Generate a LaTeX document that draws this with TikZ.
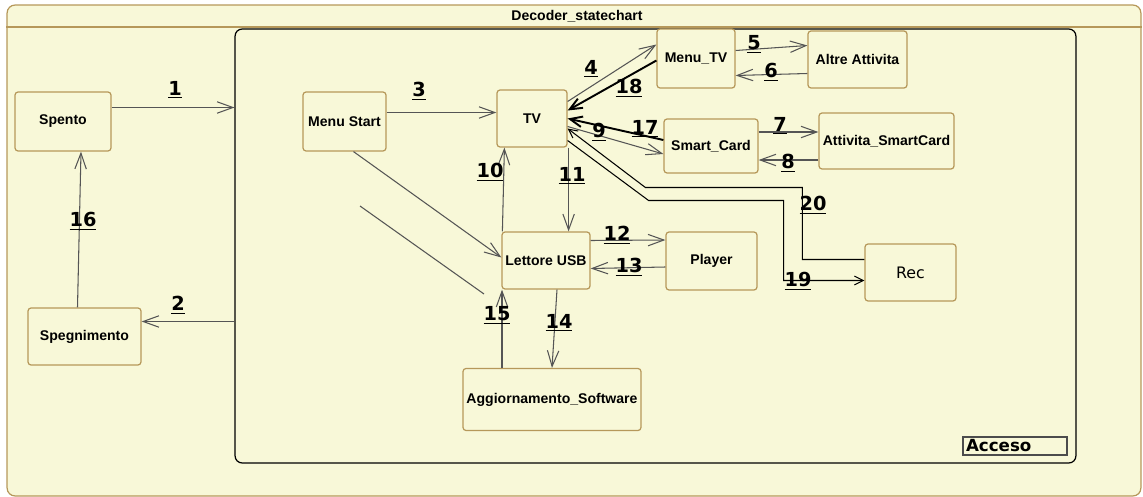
\documentclass[tikz,border=0pt]{standalone}
\usepackage{fontspec}
\setmainfont{Liberation Sans}
\newfontfamily\numfont{DejaVu Sans}
\usetikzlibrary{arrows.meta,calc}
\definecolor{chartbg}{RGB}{248,248,216}
\definecolor{statedraw}{RGB}{182,152,90}
\definecolor{linegray}{RGB}{85,85,85}
\begin{document}
\begin{tikzpicture}[
    x=0.02cm, y=-0.02cm,
    box/.style={rectangle, rounded corners=1.7pt, draw=statedraw, line width=0.7pt, fill=chartbg, inner sep=1pt, align=center, font=\bfseries\fontsize{8}{9}\selectfont},
    recbox/.style={box, font=\numfont\fontsize{9}{10}\selectfont},
    num/.style={font=\numfont\bfseries\fontsize{11}{11}\selectfont, inner sep=0pt},
    arrow/.style={-{Straight Barb[length=9pt,width=6.5pt]}, line width=0.6pt, linegray},
    thickarrow/.style={-{Straight Barb[length=7pt,width=6pt]}, line width=1.1pt, black},
    routearrow/.style={-{Straight Barb[length=5pt,width=5pt]}, line width=0.6pt, black}
]
\useasboundingbox (0,0) rectangle (1143,497);
% Frames
\node[draw=statedraw, fill=chartbg, rounded corners=4.5pt, line width=0.7pt, minimum width=22.68cm, minimum height=9.82cm] (decoder) at (574,250.5) {};
\coordinate (hdr) at (0,27);
\draw[statedraw, line width=0.7pt] (decoder.west |- hdr) -- (decoder.east |- hdr);
\node[font=\bfseries\fontsize{8}{9}\selectfont] (title) at (577,16) {Decoder\_statechart};
\node[draw=black, rounded corners=4pt, line width=0.7pt, minimum width=16.82cm, minimum height=8.68cm] (acceso) at (655.5,246) {};
\node[draw=black!70, line width=1pt, minimum width=2.08cm, minimum height=0.36cm, inner xsep=0.06cm, inner ysep=0pt, text width=1.96cm, align=left, font=\numfont\bfseries\fontsize{9.5}{10}\selectfont] (accesolabel) at (1015,446) {Acceso};
% States
\node[box, minimum width=1.92cm, minimum height=1.18cm] (spento) at (63,121.5) {Spento};
\node[box, minimum width=2.26cm, minimum height=1.14cm] (spegnimento) at (84.5,336.5) {Spegnimento};
\node[box, minimum width=1.66cm, minimum height=1.18cm] (menustart) at (344.5,121.5) {Menu Start};
\node[box, minimum width=1.40cm, minimum height=1.14cm] (tv) at (532,118.5) {TV};
\node[box, minimum width=1.56cm, minimum height=1.18cm] (menutv) at (696,58.5) {Menu\_TV};
\node[box, minimum width=1.98cm, minimum height=1.14cm] (altre) at (857.5,59.5) {Altre Attivita};
\node[box, minimum width=1.88cm, minimum height=1.08cm] (smartcard) at (711,146) {Smart\_Card};
\node[box, minimum width=2.70cm, minimum height=1.12cm] (attsmart) at (886.5,141) {Attivita\_SmartCard};
\node[box, minimum width=1.76cm, minimum height=1.14cm] (lettore) at (546,260.5) {Lettore USB};
\node[box, minimum width=1.82cm, minimum height=1.16cm] (player) at (711.5,261) {Player};
\node[box, minimum width=3.56cm, minimum height=1.24cm] (aggiornamento) at (552,399.5) {Aggiornamento\_Software};
\node[recbox, minimum width=1.82cm, minimum height=1.14cm] (rec) at (910.5,272.5) {Rec};
% Outer transitions
\draw[arrow] ($(spento.east)+(0,-14)$) coordinate (s1) -- (s1 -| acceso.west);
\path ($(spegnimento.east)+(0,-15)$) coordinate (s2);
\draw[arrow] (s2 -| acceso.west) -- (s2);
\draw[arrow] ($(spegnimento.north)+(-7,0)$) -- ($(spento.south)+(18,0)$);
% Transitions inside Acceso
\draw[arrow] ($(menustart.east)+(0,-9)$) -- ($(tv.west)+(0,-6)$);
\draw[arrow] ($(tv.east)+(0,-17)$) -- ($(menutv.west)+(0,-14)$);
\draw[thickarrow] ($(menutv.west)+(0,2)$) -- ($(tv.east)+(0,-8)$);
\draw[arrow] ($(menutv.east)+(0,-8)$) -- ($(altre.west)+(0,-14)$);
\draw[arrow] ($(altre.west)+(0,14)$) -- ($(menutv.east)+(0,17)$);
\draw[thickarrow] ($(smartcard.west)+(0,-6)$) -- (tv.east);
\draw[arrow] ($(tv.east)+(0,8)$) -- ($(smartcard.west)+(0,8)$);
\draw[arrow] ($(smartcard.east)+(0,-14)$) -- ($(attsmart.west)+(0,-9)$);
\draw[arrow] ($(attsmart.west)+(0,19)$) -- ($(smartcard.east)+(0,14)$);
\draw[arrow] ($(lettore.north west)+(1,0)$) -- ($(tv.south west)+(8,0)$);
\draw[arrow] ($(tv.south east)+(1,0)$) coordinate (t11) -- (t11 |- lettore.north);
\draw[arrow] ($(lettore.east)+(0,-20)$) -- ($(player.west)+(0,-21)$);
\draw[arrow] ($(player.west)+(0,6)$) -- ($(lettore.east)+(0,8)$);
\draw[arrow] ($(lettore.south)+(11,0)$) -- (aggiornamento.north);
\draw[arrow] ($(aggiornamento.north)+(-50,0)$) coordinate (a15) -- (a15 |- lettore.south);
\draw[arrow] ($(menustart.south)+(9,0)$) -- ($(lettore.west)+(0,-3)$);
\coordinate (stray1) at (360,206);
\coordinate (stray2) at (484,294);
\draw[linegray, line width=0.6pt] (stray1) -- (stray2);
% Routed transitions to/from Rec
\draw[routearrow] ($(rec.west)+(0,-13)$) -- ++(-62,0) -- ++(0,-72) -- ++(-157,0) -- ($(tv.east)+(0,10)$);
\draw[routearrow] ($(tv.east)+(0,22)$) -- ++(81,60) -- ++(135,0) -- ++(0,80) -- ($(rec.west)+(0,8)$);
% Labels
\node[num] (n1) at (175,90) {\underline{1}};
\node[num] (n2) at (178,305) {\underline{2}};
\node[num] (n3) at (419,91) {\underline{3}};
\node[num] (n4) at (591,69) {\underline{4}};
\node[num] (n5) at (754,44) {\underline{5}};
\node[num] (n6) at (771,72) {\underline{6}};
\node[num] (n7) at (780,126) {\underline{7}};
\node[num] (n8) at (788,163) {\underline{8}};
\node[num] (n9) at (599,132) {\underline{9}};
\node[num] (n10) at (490,172) {\underline{10}};
\node[num] (n11) at (572,176) {\underline{11}};
\node[num] (n12) at (617,235) {\underline{12}};
\node[num] (n13) at (629,267) {\underline{13}};
\node[num] (n14) at (559,323) {\underline{14}};
\node[num] (n15) at (497,315) {\underline{15}};
\node[num] (n16) at (83,221) {\underline{16}};
\node[num] (n17) at (645,129) {\underline{17}};
\node[num] (n18) at (629,88) {\underline{18}};
\node[num] (n19) at (798,281) {\underline{19}};
\node[num] (n20) at (813,205) {\underline{20}};
\end{tikzpicture}
\end{document}
